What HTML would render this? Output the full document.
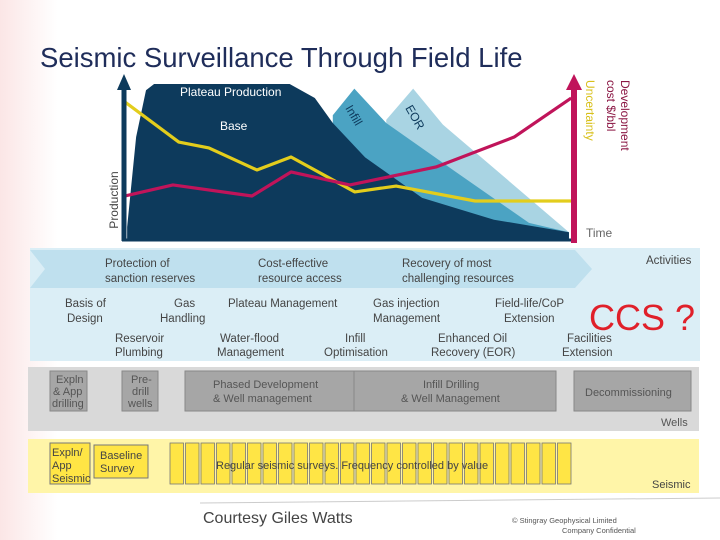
<!DOCTYPE html>
<html><head><meta charset="utf-8">
<style>
body{margin:0;width:720px;height:540px;overflow:hidden;background:#fff;font-family:"Liberation Sans",sans-serif;}
svg{display:block}
text{font-family:"Liberation Sans",sans-serif;}
</style></head><body>
<svg width="720" height="540" viewBox="0 0 720 540">
<defs>
<linearGradient id="bg" x1="0" x2="1" y1="0" y2="0"><stop offset="0" stop-color="#fbe6e6"/><stop offset="0.08" stop-color="#fff"/><stop offset="1" stop-color="#fff"/></linearGradient>
</defs>
<rect x="0" y="0" width="720" height="540" fill="url(#bg)"/>
<text x="40" y="67" font-size="27.5" fill="#1f2d5a">Seismic Surveillance Through Field Life</text>
<g id="chart"></g>
<text transform="translate(118,200) rotate(-90)" text-anchor="middle" font-size="12" fill="#444">Production</text>
<text x="180" y="96" font-size="12" fill="#fff">Plateau Production</text>
<text x="220" y="130" font-size="12" fill="#fff">Base</text>
<text transform="translate(345,108) rotate(60)" font-size="12" fill="#0d3a5c">Infill</text>
<text transform="translate(405,108) rotate(60)" font-size="12" fill="#0d3a5c">EOR</text>
<text x="586" y="237" font-size="12" fill="#666">Time</text>
<text transform="translate(586,80) rotate(90)" font-size="12" fill="#d8c01a">Uncertainty</text>
<text transform="translate(621,80) rotate(90)" font-size="12" fill="#8b1744">Development</text>
<text transform="translate(607,80) rotate(90)" font-size="12" fill="#8b1744">cost $/bbl</text>

<g font-size="11.5" fill="#444">
<rect x="30" y="248" width="670" height="113" fill="#dbeef6"/>
<polygon points="30,250 575,250 592,269 575,288 30,288 45,269" fill="#bfe0ee"/>
<text x="105" y="267">Protection of</text><text x="105" y="282">sanction reserves</text>
<text x="258" y="267">Cost-effective</text><text x="258" y="282">resource access</text>
<text x="402" y="267">Recovery of most</text><text x="402" y="282">challenging resources</text>
<text x="646" y="264">Activities</text>
<text x="65" y="307">Basis of</text><text x="67" y="322">Design</text>
<text x="174" y="307">Gas</text><text x="160" y="322">Handling</text>
<text x="228" y="307">Plateau Management</text>
<text x="373" y="307">Gas injection</text><text x="373" y="322">Management</text>
<text x="495" y="307">Field-life/CoP</text><text x="504" y="322">Extension</text>
<text x="589" y="330" font-size="36" fill="#e0202a">CCS ?</text>
<text x="115" y="342">Reservoir</text><text x="115" y="356">Plumbing</text>
<text x="220" y="342">Water-flood</text><text x="217" y="356">Management</text>
<text x="345" y="342">Infill</text><text x="324" y="356">Optimisation</text>
<text x="438" y="342">Enhanced Oil</text><text x="431" y="356">Recovery (EOR)</text>
<text x="567" y="342">Facilities</text><text x="562" y="356">Extension</text>
</g>

<g font-size="11" fill="#555">
<rect x="28" y="367" width="671" height="64" fill="#d9d9d9"/>
<rect x="50" y="371" width="37" height="40" fill="#a6a6a6" stroke="#888"/>
<text x="56" y="383">Expln</text><text x="53" y="395">&amp; App</text><text x="52" y="407">drilling</text>
<rect x="122" y="371" width="36" height="40" fill="#a6a6a6" stroke="#888"/>
<text x="131" y="383">Pre-</text><text x="132" y="395">drill</text><text x="128" y="407">wells</text>
<rect x="185" y="371" width="169" height="40" fill="#a6a6a6" stroke="#888"/>
<text x="213" y="388">Phased Development</text><text x="213" y="402">&amp; Well management</text>
<rect x="354" y="371" width="202" height="40" fill="#a6a6a6" stroke="#888"/>
<text x="423" y="388">Infill Drilling</text><text x="401" y="402">&amp; Well Management</text>
<rect x="574" y="371" width="117" height="40" fill="#a6a6a6" stroke="#888"/>
<text x="585" y="396">Decommissioning</text>
<text x="661" y="426">Wells</text>
</g>

<g font-size="11" fill="#444">
<rect x="28" y="439" width="671" height="54" fill="#fff5a8"/>
<rect x="50" y="443" width="40" height="41" fill="#ffe545" stroke="#777"/>
<text x="52" y="456">Expln/</text><text x="52" y="469">App</text><text x="52" y="482">Seismic</text>
<rect x="94" y="445" width="54" height="33" fill="#ffe545" stroke="#777"/>
<text x="100" y="459">Baseline</text><text x="100" y="472">Survey</text>
<g id="bars"></g>
<text x="216" y="469">Regular seismic surveys. Frequency controlled by value</text>
<text x="652" y="488">Seismic</text>
</g>
<line x1="200" y1="503" x2="720" y2="498" stroke="#ccc"/>
<text x="203" y="523" font-size="16" fill="#444">Courtesy Giles Watts</text>
<text x="512" y="523" font-size="7.5" fill="#555">© Stingray Geophysical Limited</text>
<text x="562" y="533" font-size="7.5" fill="#555">Company Confidential</text>
</svg>
<script>
const baseT=[0.7,2.7,4.9,6.7,36.9,42.5,46.5,53.7,66.4,82.4,99.1];
const baseV=[8.3,66,96,100,100,91,75,53,27,13,5];
const infillT=[46.5,51.3,58.4,74.2,90.2,99.1];
const infillV=[80,97,75,43,11,5];
const eorT=[58.4,64.4,71,99.1];
const eorV=[77,97,74,5];
const uncT=[0.2,12.2,18.9,29.6,37.2,51.4,60.6,78.2,100];
const uncV=[88.5,62.8,59,44.9,53.2,30.8,34.6,25,25];
const costT=[0.2,10.9,28.5,37.2,50.3,69.5,86.9,99.6];
const costV=[28.2,35.3,28.2,43.6,35.3,46.8,66,91];
const surveyCount=26;
const NS='http://www.w3.org/2000/svg';
const xS=t=>124+t*4.49, yS=v=>240-v*1.56;
const g=document.getElementById('chart');
function mk(tag,attrs){const e=document.createElementNS(NS,tag);for(const k in attrs)e.setAttribute(k,attrs[k]);return e;}
function area(T,V,fill,name){
  let pts=[[xS(T[0]),yS(0)]];T.forEach((t,i)=>pts.push([xS(t),yS(V[i])]));pts.push([xS(T[T.length-1]),yS(0)]);
  const p=mk('polygon',{points:pts.map(p=>p.join(',')).join(' '),fill:fill});
  
  
  g.appendChild(p);
}
function line(T,V,col,name){
  const p=mk('polyline',{points:T.map((t,i)=>xS(t)+','+yS(V[i])).join(' '),fill:'none',stroke:col,'stroke-width':3.2,'stroke-linejoin':'round'});
  
  
  g.appendChild(p);
}
area(eorT,eorV,'#a9d4e3','eor-area');
area(infillT,infillV,'#4ba3c3','infill-area');
area(baseT,baseV,'#0d3a5c','base-area');
line(uncT,uncV,'#e3cd1c','uncertainty-line');
line(costT,costV,'#c0145a','cost-line');
let ax=mk('line',{x1:124,y1:241,x2:124,y2:88,stroke:'#0d3a5c','stroke-width':5});
g.appendChild(ax);
let ah=mk('polygon',{points:'117,90 124,74 131,90',fill:'#0d3a5c'});
g.appendChild(ah);
let bx=mk('line',{x1:122,y1:240,x2:574,y2:240,stroke:'#0d3a5c','stroke-width':3});
g.appendChild(bx);
let rx=mk('line',{x1:574,y1:243,x2:574,y2:88,stroke:'#c0145a','stroke-width':6});
g.appendChild(rx);
let rh=mk('polygon',{points:'566,90 574,74 582,90',fill:'#c0145a'});
g.appendChild(rh);
const bars=document.getElementById('bars');
const bw=(573-170)/surveyCount;
for(let i=0;i<surveyCount;i++){
  const r=mk('rect',{x:170+i*bw,y:443,width:bw-2,height:41,fill:'#ffe545',stroke:'#777','stroke-width':0.8});
  
  
  bars.appendChild(r);
}
</script>
</body></html>
